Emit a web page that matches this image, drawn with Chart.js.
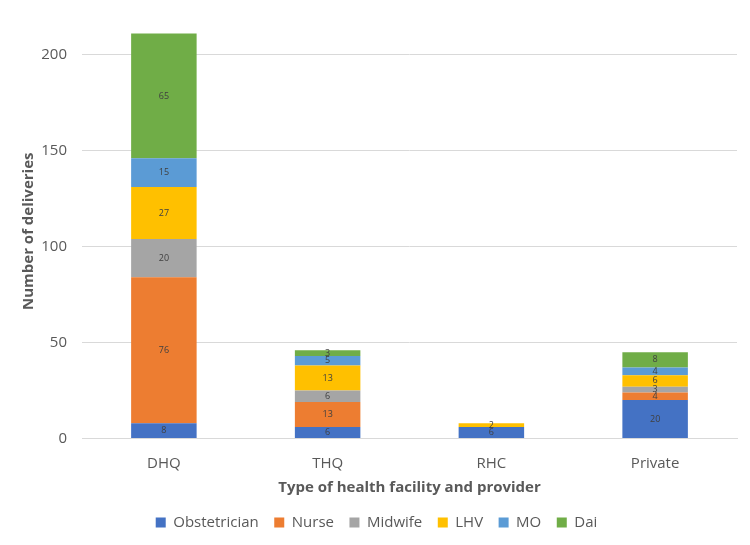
<!DOCTYPE html>
<html>
<head>
<meta charset="utf-8">
<script src="https://cdn.jsdelivr.net/npm/chart.js@4"></script>
<style>
  html, body { margin: 0; padding: 0; background: #fff; }
  #wrap { width: 750px; height: 545px; }
</style>
</head>
<body>
<div id="wrap"><canvas id="chart" width="750" height="545"></canvas></div>
<script>
const categories = ["DHQ", "THQ", "RHC", "Private"];
const obstetrician = [8, 6, 6, 20];
const nurse = [76, 13, 0, 4];
const midwife = [20, 6, 0, 3];
const lhv = [27, 13, 2, 6];
const mo = [15, 5, 0, 4];
const dai = [65, 3, 0, 8];
const yTicks = [0, 50, 100, 150, 200];

const textColor = "#595959";
const fontFamily = "'Open Sans', 'Liberation Sans', sans-serif";

// draws the value in the middle of each segment, like Excel's data labels
const segmentLabels = {
  id: "segmentLabels",
  afterDatasetsDraw(chart) {
    const ctx = chart.ctx;
    ctx.save();
    ctx.font = "9px " + fontFamily;
    ctx.fillStyle = "#404040";
    ctx.textAlign = "center";
    ctx.textBaseline = "middle";
    chart.data.datasets.forEach((ds, i) => {
      const meta = chart.getDatasetMeta(i);
      meta.data.forEach((bar, j) => {
        const v = ds.data[j];
        if (!v) return;
        const y = (bar.y + bar.base) / 2;
        ctx.fillText(String(v), bar.x, y);
      });
    });
    ctx.restore();
  },
};

const makeSet = (label, data, color) => ({
  label,
  data,
  backgroundColor: color,
  borderWidth: 0,
  categoryPercentage: 1,
  barPercentage: 0.4,
});

new Chart(document.getElementById("chart"), {
  type: "bar",
  data: {
    labels: categories,
    datasets: [
      makeSet("Obstetrician", obstetrician, "#4472C4"),
      makeSet("Nurse", nurse, "#ED7D31"),
      makeSet("Midwife", midwife, "#A5A5A5"),
      makeSet("LHV", lhv, "#FFC000"),
      makeSet("MO", mo, "#5B9BD5"),
      makeSet("Dai", dai, "#70AD47"),
    ],
  },
  options: {
    responsive: false,
    animation: false,
    layout: { padding: { top: 6, right: 13, left: 16, bottom: 5 } },
    plugins: {
      legend: {
        position: "bottom",
        labels: {
          color: textColor,
          font: { size: 15, family: fontFamily },
          boxWidth: 10,
          boxHeight: 10,
          padding: 15.5,
        },
      },
      tooltip: { enabled: false },
    },
    scales: {
      x: {
        stacked: true,
        grid: { display: false },
        border: { color: "#D9D9D9" },
        ticks: {
          color: textColor,
          font: { size: 15, family: fontFamily, lineHeight: 1 },
          padding: 9.5,
        },
        title: {
          display: true,
          text: "Type of health facility and provider",
          color: textColor,
          font: { size: 15, weight: "bold", family: fontFamily, lineHeight: 1 },
          padding: { top: 0 },
        },
      },
      y: {
        stacked: true,
        min: 0,
        max: 216,
        afterBuildTicks(scale) {
          scale.ticks = yTicks.map((v) => ({ value: v }));
        },
        afterFit(scale) {
          scale.width = 66;
        },
        grid: { color: "#D9D9D9", drawTicks: false },
        border: { display: false },
        ticks: { color: textColor, font: { size: 15, family: fontFamily }, padding: 15 },
        title: {
          display: true,
          text: "Number of deliveries",
          color: textColor,
          font: { size: 15, weight: "bold", family: fontFamily },
        },
      },
    },
  },
  plugins: [segmentLabels],
});
</script>
</body>
</html>
